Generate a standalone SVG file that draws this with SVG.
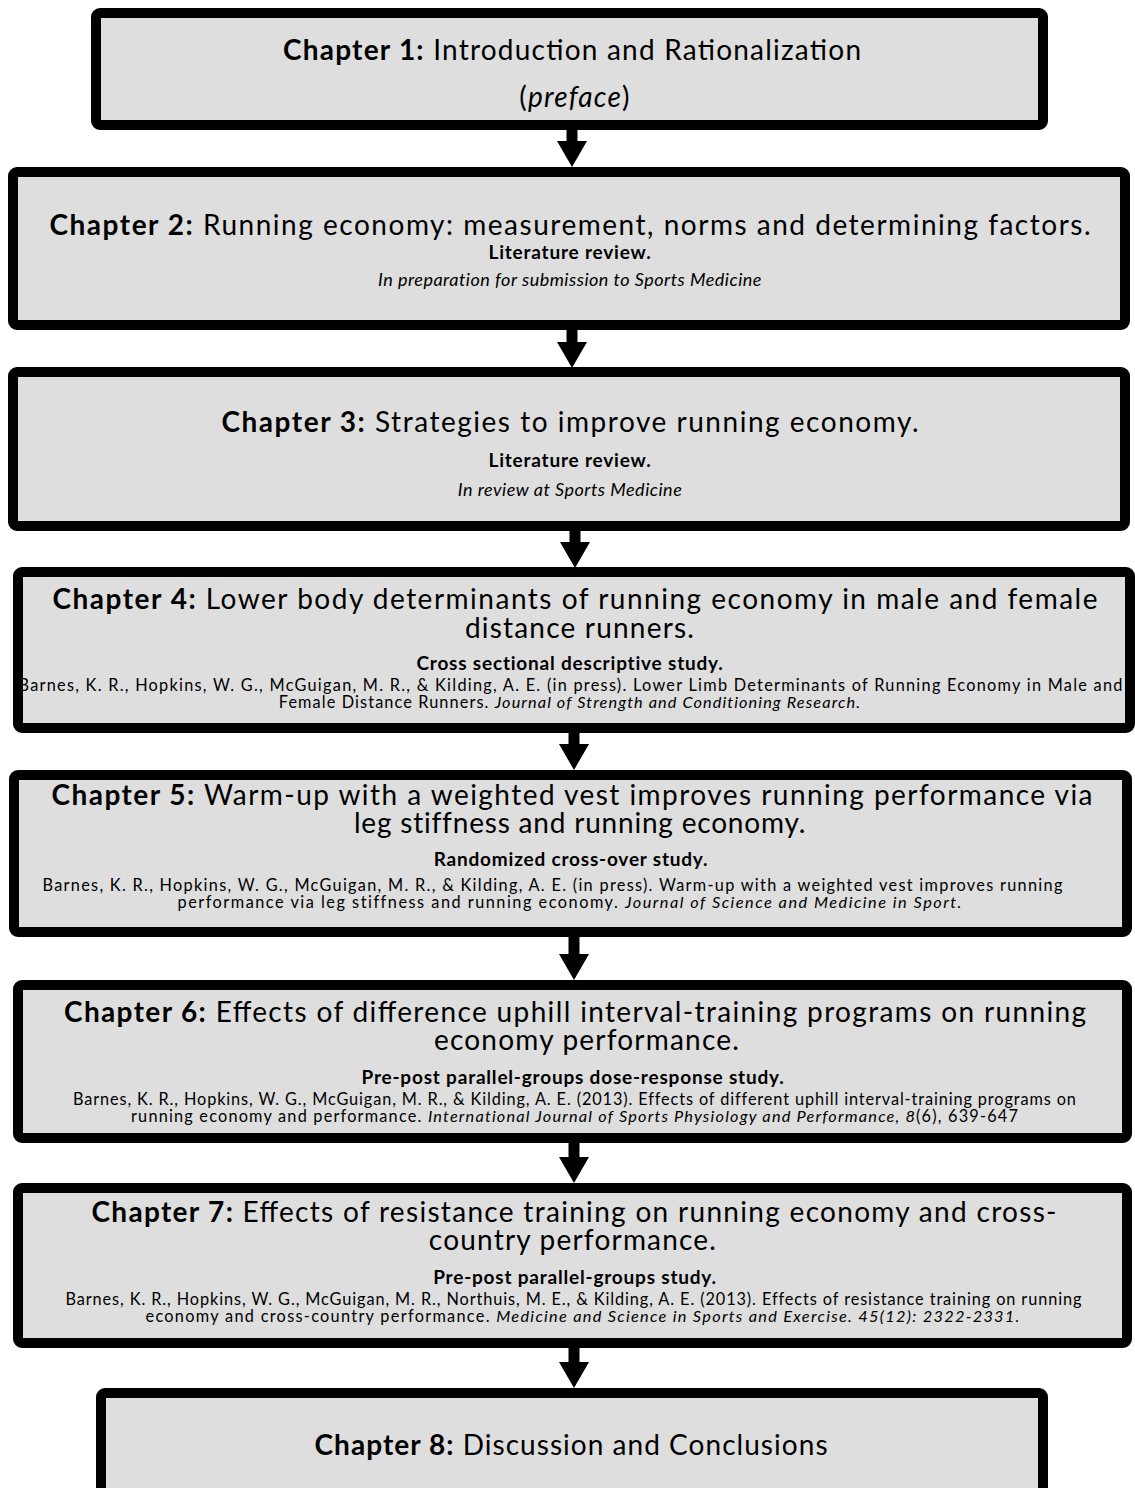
<svg xmlns="http://www.w3.org/2000/svg" width="1135" height="1488" viewBox="0 0 1135 1488">
<style>
.box{fill:#dedede;stroke:#000;stroke-width:10}
text{font-family:Lato,"Liberation Sans",sans-serif;fill:#000;text-anchor:middle}
.t{font-size:28px}
.t2{font-size:28px;letter-spacing:1.2px}
.s{font-size:19px;font-weight:bold;letter-spacing:0.8px}
.i{font-size:18px;font-style:italic;letter-spacing:0.5px}
.c{font-size:16.3px;letter-spacing:1.1px}
.b{font-weight:bold}
.it{font-style:italic}
.conn{stroke:#000;stroke-width:11;fill:none}
</style>
<defs>
<marker id="ah" markerUnits="userSpaceOnUse" markerWidth="30" markerHeight="32" refX="0" refY="0" orient="auto" viewBox="0 -16 28 32" overflow="visible">
<path d="M0,-15 L26,0 L0,15 z" fill="#000"/>
</marker>
</defs>
<rect width="1135" height="1488" fill="#fff"/>
<g id="connectors">
<line class="conn" x1="572" y1="128" x2="572" y2="141" marker-end="url(#ah)"/>
<line class="conn" x1="572" y1="328" x2="572" y2="342" marker-end="url(#ah)"/>
<line class="conn" x1="575" y1="529" x2="575" y2="542" marker-end="url(#ah)"/>
<line class="conn" x1="574" y1="731" x2="574" y2="744" marker-end="url(#ah)"/>
<line class="conn" x1="574" y1="932" x2="574" y2="954" marker-end="url(#ah)"/>
<line class="conn" x1="574" y1="1141" x2="574" y2="1157" marker-end="url(#ah)"/>
<line class="conn" x1="574" y1="1346" x2="574" y2="1362" marker-end="url(#ah)"/>
</g>
<g id="node1">
<rect class="box" x="96" y="13" width="947" height="112" rx="4"/>
<text class="t" x="572" y="60" textLength="578"><tspan class="b">Chapter 1:</tspan> Introduction and Rationalization</text>
<text class="t2" x="575" y="107">(<tspan class="it">preface</tspan>)</text>
</g>
<g id="node2">
<rect class="box" x="13" y="172" width="1112" height="153" rx="4"/>
<text class="t" x="570" y="235" textLength="1041"><tspan class="b">Chapter 2:</tspan>  Running economy: measurement, norms and determining factors.</text>
<text class="s" x="570" y="259">Literature review.</text>
<text class="i" x="570" y="286">In preparation for submission to Sports Medicine</text>
</g>
<g id="node3">
<rect class="box" x="13" y="372" width="1112" height="154" rx="4"/>
<text class="t" x="570" y="432" textLength="697"><tspan class="b">Chapter 3:</tspan>  Strategies to improve running economy.</text>
<text class="s" x="570" y="467">Literature review.</text>
<text class="i" x="570" y="496">In review at Sports Medicine</text>
</g>
<g id="node4">
<rect class="box" x="18" y="572" width="1112" height="156" rx="4"/>
<text class="t" x="575" y="609" textLength="1045"><tspan class="b">Chapter 4:</tspan>  Lower body determinants of running economy in male and female</text>
<text class="t2" x="580" y="638">distance runners.</text>
<text class="s" x="570" y="670">Cross sectional descriptive study.</text>
<text class="c" x="571" y="691" textLength="1105">Barnes, K. R., Hopkins, W. G., McGuigan, M. R., &amp; Kilding, A. E. (in press). Lower Limb Determinants of Running Economy in Male and</text>
<text class="c" x="570" y="708">Female Distance Runners. <tspan class="it">Journal of Strength and Conditioning Research.</tspan></text>
</g>
<g id="node5">
<rect class="box" x="14" y="775" width="1113" height="157" rx="4"/>
<text class="t" x="572" y="805" textLength="1041"><tspan class="b">Chapter 5:</tspan>  Warm-up with a weighted vest improves running performance via</text>
<text class="t" x="580" y="833" style="letter-spacing:0.8px">leg stiffness and running economy.</text>
<text class="s" x="571" y="866">Randomized cross-over study.</text>
<text class="c" x="553" y="891" textLength="1021">Barnes, K. R., Hopkins, W. G., McGuigan, M. R., &amp; Kilding, A. E. (in press). Warm-up with a weighted vest improves running</text>
<text class="c" x="570" y="908" textLength="785">performance via leg stiffness and running economy. <tspan class="it">Journal of Science and Medicine in Sport.</tspan></text>
</g>
<g id="node6">
<rect class="box" x="18" y="985" width="1109" height="153" rx="4"/>
<text class="t" x="575" y="1022" textLength="1022"><tspan class="b">Chapter 6:</tspan>  Effects of difference uphill interval-training programs on running</text>
<text class="t2" x="587" y="1050">economy performance.</text>
<text class="s" x="573" y="1084">Pre-post parallel-groups dose-response study.</text>
<text class="c" x="575" y="1105" textLength="1004">Barnes, K. R., Hopkins, W. G., McGuigan, M. R., &amp; Kilding, A. E. (2013). Effects of different uphill interval-training programs on</text>
<text class="c" x="575" y="1122" textLength="888">running economy and performance. <tspan class="it">International Journal of Sports Physiology and Performance, 8</tspan>(6), 639-647</text>
</g>
<g id="node7">
<rect class="box" x="18" y="1188" width="1109" height="155" rx="4"/>
<text class="t" x="574" y="1222" textLength="965"><tspan class="b">Chapter 7:</tspan>  Effects of resistance training on running economy and cross-</text>
<text class="t2" x="573" y="1250">country performance.</text>
<text class="s" x="575" y="1284">Pre-post parallel-groups study.</text>
<text class="c" x="574" y="1305" textLength="1017">Barnes, K. R., Hopkins, W. G., McGuigan, M. R., Northuis, M. E., &amp; Kilding, A. E. (2013). Effects of resistance training on running</text>
<text class="c" x="583" y="1322" textLength="875">economy and cross-country performance. <tspan class="it">Medicine and Science in Sports and Exercise. 45(12): 2322-2331.</tspan></text>
</g>
<g id="node8">
<rect class="box" x="101" y="1393" width="942" height="120" rx="4"/>
<text class="t" x="571" y="1455" textLength="513"><tspan class="b">Chapter 8:</tspan> Discussion and Conclusions</text>
</g>
</svg>
